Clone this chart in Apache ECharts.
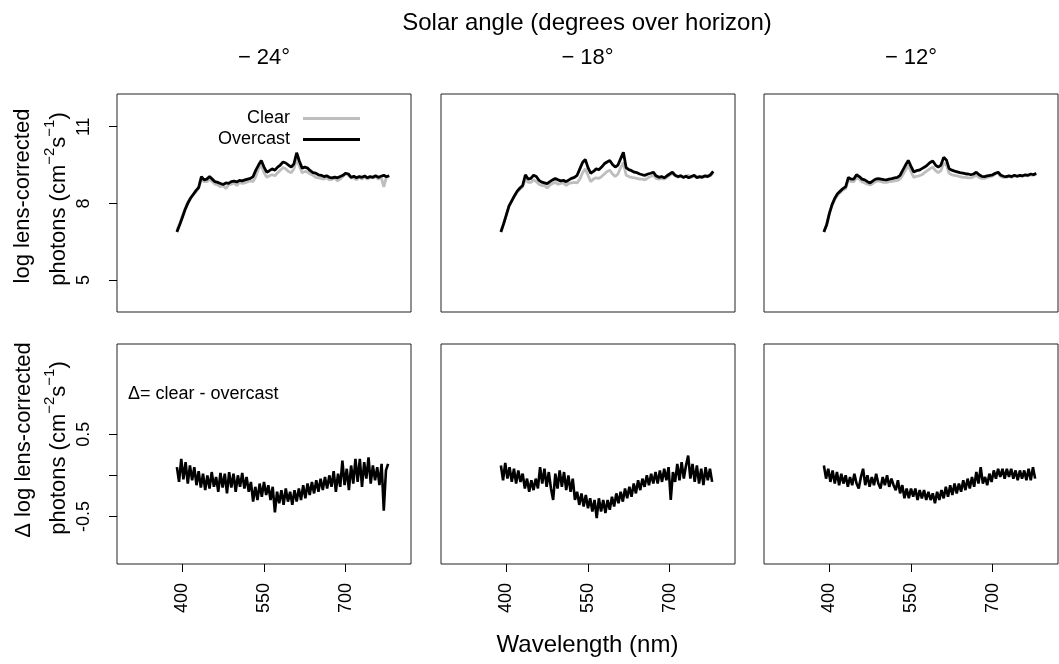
<!DOCTYPE html>
<html>
<head>
<meta charset="utf-8">
<title>Spectra by solar angle</title>
<script src="https://cdn.jsdelivr.net/npm/echarts@6/dist/echarts.min.js"></script>
<style>
  html, body { margin: 0; padding: 0; background: #fff; }
  #chart { width: 1059px; height: 664px; }
</style>
</head>
<body>
<div id="chart"></div>
<script>
// wavelengths (nm) of the sampled spectra
const wlTop = [390, 395, 400, 405, 410, 415, 420, 425, 430, 435, 440, 445, 450, 455, 460, 465, 470, 475, 480, 485,
  490, 495, 500, 505, 510, 515, 520, 525, 530, 535, 540, 545, 550, 555, 560, 565, 570, 575, 580, 585,
  590, 595, 600, 605, 610, 615, 620, 625, 630, 635, 640, 645, 650, 655, 660, 665, 670, 675, 680, 685,
  690, 695, 700, 705, 710, 715, 720, 725, 730, 735, 740, 745, 750, 755, 760, 765, 770, 775, 780]
const wlDelta = [390, 394, 398, 402, 406, 410, 414, 418, 422, 426, 430, 434, 438, 442, 446, 450, 454, 458, 462, 466,
  470, 474, 478, 482, 486, 490, 494, 498, 502, 506, 510, 514, 518, 522, 526, 530, 534, 538, 542, 546,
  550, 554, 558, 562, 566, 570, 574, 578, 582, 586, 590, 594, 598, 602, 606, 610, 614, 618, 622, 626,
  630, 634, 638, 642, 646, 650, 654, 658, 662, 666, 670, 674, 678, 682, 686, 690, 694, 698, 702, 706,
  710, 714, 718, 722, 726, 730, 734, 738, 742, 746, 750, 754, 758, 762, 766, 770, 774, 778]

// log lens-corrected photons, solar angle -24
const overcast24 = [6.88, 7.15, 7.45, 7.75, 8.0, 8.2, 8.35, 8.5, 8.62, 9.05,
  8.92, 8.95, 9.05, 8.95, 8.85, 8.82, 8.78, 8.74, 8.8, 8.78,
  8.85, 8.87, 8.84, 8.9, 8.88, 8.92, 8.95, 8.98, 9.05, 9.3,
  9.5, 9.68, 9.42, 9.22, 9.28, 9.35, 9.3, 9.42, 9.5, 9.62,
  9.58, 9.5, 9.42, 9.55, 9.98, 9.65, 9.38, 9.42, 9.38, 9.28,
  9.2, 9.18, 9.12, 9.1, 9.05, 9.08, 9.02, 9.0, 9.03, 9.0,
  9.05, 9.1, 9.18, 9.15, 9.02, 9.06, 9.0, 9.05, 9.02, 9.07,
  9.0, 9.05, 9.02, 9.08, 9.02, 9.06, 9.1, 9.04, 9.08]
const clear24 = [6.95, 7.2, 7.5, 7.8, 8.05, 8.2, 8.35, 8.45, 8.6, 8.95,
  8.85, 8.85, 8.95, 8.85, 8.75, 8.72, 8.65, 8.7, 8.58, 8.72,
  8.75, 8.8, 8.7, 8.82, 8.78, 8.8, 8.85, 8.88, 8.85, 9.05,
  9.35, 9.5, 9.2, 9.02, 9.08, 9.12, 9.08, 9.2, 9.3, 9.4,
  9.35, 9.25, 9.2, 9.35, 9.75, 9.45, 9.2, 9.25, 9.22, 9.15,
  9.1, 9.02, 9.0, 8.98, 8.95, 9.0, 8.92, 8.95, 8.98, 8.88,
  8.95, 9.05, 9.15, 9.1, 9.0, 9.0, 8.92, 9.05, 8.95, 9.05,
  8.95, 9.02, 9.0, 9.04, 8.95, 9.05, 8.65, 9.05, 9.08]

// solar angle -18
const overcast18 = [6.88, 7.2, 7.55, 7.9, 8.1, 8.3, 8.48, 8.6, 8.7, 9.12,
  8.95, 8.98, 9.1, 9.05, 8.9, 8.83, 8.8, 8.77, 8.85, 8.92,
  8.97, 8.92, 8.88, 8.9, 8.85, 8.92, 8.98, 9.02, 9.1, 9.35,
  9.6, 9.72, 9.4, 9.18, 9.25, 9.35, 9.32, 9.42, 9.55, 9.62,
  9.68, 9.52, 9.42, 9.5, 9.75, 10.0, 9.4, 9.32, 9.28, 9.22,
  9.2, 9.15, 9.12, 9.1, 9.15, 9.18, 9.22, 9.08, 9.02, 9.05,
  9.0, 9.08, 9.15, 9.22, 9.1, 9.05, 9.08, 9.02, 9.06, 9.0,
  9.05, 9.1, 9.0, 9.05, 9.02, 9.08, 9.05, 9.12, 9.25]
const clear18 = [6.9, 7.2, 7.55, 7.9, 8.1, 8.28, 8.45, 8.55, 8.65, 8.95,
  8.82, 8.82, 8.92, 8.85, 8.75, 8.7, 8.7, 8.6, 8.72, 8.78,
  8.82, 8.75, 8.78, 8.8, 8.7, 8.78, 8.8, 8.82, 8.8, 8.95,
  9.2, 9.35, 9.1, 8.85, 8.95, 9.0, 8.98, 9.05, 9.15, 9.25,
  9.3, 9.15, 9.05, 9.15, 9.4, 9.6, 9.1, 9.05, 9.02, 9.0,
  8.98, 8.95, 8.95, 8.92, 9.0, 9.05, 9.1, 8.98, 8.95, 8.98,
  8.95, 9.02, 9.1, 9.18, 9.08, 9.02, 9.1, 9.0, 9.08, 9.1,
  9.02, 9.08, 9.05, 9.02, 9.06, 9.04, 9.1, 9.08, 9.2]

// solar angle -12
const overcast12 = [6.88, 7.15, 7.6, 7.95, 8.2, 8.38, 8.48, 8.58, 8.65, 9.02,
  8.95, 8.95, 9.12, 9.05, 8.95, 8.92, 8.85, 8.8, 8.88, 8.95,
  8.97, 8.95, 8.93, 8.92, 8.95, 8.97, 9.0, 9.02, 9.1, 9.3,
  9.5, 9.68, 9.45, 9.23, 9.28, 9.3, 9.36, 9.42, 9.5, 9.6,
  9.66, 9.5, 9.42, 9.5, 9.8, 9.7, 9.36, 9.3, 9.26, 9.23,
  9.2, 9.18, 9.16, 9.15, 9.12, 9.15, 9.22, 9.12, 9.06, 9.05,
  9.08, 9.1, 9.12, 9.18, 9.22, 9.1, 9.06, 9.05, 9.08, 9.05,
  9.1, 9.06, 9.1, 9.08, 9.12, 9.1, 9.15, 9.12, 9.18]
const clear12 = [6.9, 7.18, 7.6, 7.92, 8.15, 8.32, 8.42, 8.52, 8.58, 8.92,
  8.85, 8.85, 9.0, 8.95, 8.85, 8.8, 8.75, 8.72, 8.78, 8.85,
  8.88, 8.85, 8.82, 8.82, 8.85, 8.86, 8.88, 8.9, 8.95, 9.12,
  9.3, 9.48, 9.25, 9.02, 9.06, 9.08, 9.12, 9.2, 9.28, 9.36,
  9.42, 9.28, 9.2, 9.28, 9.58, 9.5, 9.18, 9.12, 9.1, 9.08,
  9.05, 9.02, 9.02, 9.0, 9.0, 9.04, 9.1, 9.02, 8.98, 8.98,
  9.02, 9.05, 9.08, 9.15, 9.18, 9.05, 9.02, 9.02, 9.06, 9.02,
  9.08, 9.04, 9.08, 9.06, 9.1, 9.08, 9.12, 9.1, 9.15]

// delta = clear - overcast
const delta24 = [0.1, -0.08, 0.2, -0.05, 0.16, -0.1, 0.12, -0.06, 0.1, -0.12,
  0.05, -0.15, 0.02, -0.18, 0.0, -0.16, 0.04, -0.14, -0.02, -0.2,
  0.03, -0.15, 0.02, -0.22, 0.04, -0.15, 0.02, -0.2, 0.0, -0.14,
  0.03, -0.16, -0.02, -0.2, -0.08, -0.32, -0.14, -0.3, -0.1, -0.26,
  -0.08, -0.24, -0.12, -0.3, -0.14, -0.45, -0.2, -0.34, -0.18, -0.36,
  -0.16, -0.32, -0.2, -0.36, -0.18, -0.32, -0.16, -0.3, -0.12, -0.28,
  -0.1, -0.24, -0.08, -0.22, -0.06, -0.2, -0.04, -0.18, -0.02, -0.16,
  0.0, -0.14, 0.05, -0.2, 0.02, -0.14, 0.18, -0.12, 0.08, -0.18,
  0.12, -0.1, 0.2, -0.08, 0.2, -0.14, 0.16, -0.04, 0.22, -0.1,
  0.12, -0.06, 0.1, -0.12, 0.14, -0.43, 0.06, 0.14]
const delta18 = [0.12, -0.06, 0.15, -0.04, 0.1, -0.08, 0.08, -0.1, 0.06, -0.08,
  0.02, -0.16, -0.04, -0.2, -0.06, -0.18, -0.04, -0.16, 0.1, -0.1,
  0.08, -0.14, 0.04, -0.16, -0.3, 0.02, -0.16, 0.06, -0.14, 0.04,
  -0.18, 0.0, -0.2, -0.04, -0.3, -0.2, -0.36, -0.22, -0.38, -0.24,
  -0.4, -0.28, -0.44, -0.3, -0.52, -0.28, -0.44, -0.3, -0.46, -0.3,
  -0.42, -0.26, -0.38, -0.22, -0.34, -0.2, -0.32, -0.16, -0.28, -0.14,
  -0.26, -0.1, -0.22, -0.06, -0.18, -0.04, -0.14, 0.0, -0.12, 0.02,
  -0.1, 0.04, -0.1, 0.06, -0.08, 0.08, -0.06, 0.1, -0.3, 0.04,
  -0.08, 0.14, -0.06, 0.16, -0.04, 0.12, 0.24, -0.04, 0.14, -0.08,
  0.12, -0.1, 0.08, -0.12, 0.1, -0.06, 0.08, -0.08]
const delta12 = [0.12, -0.04, 0.08, -0.08, 0.06, -0.1, 0.04, -0.12, 0.02, -0.1,
  0.0, -0.14, -0.02, -0.12, 0.02, -0.1, -0.16, -0.02, 0.08, -0.12,
  0.0, -0.14, -0.02, -0.12, 0.02, -0.1, -0.16, -0.02, -0.12, 0.0,
  -0.14, -0.04, -0.12, -0.18, -0.06, -0.22, -0.12, -0.28, -0.16, -0.28,
  -0.16, -0.26, -0.16, -0.3, -0.18, -0.28, -0.18, -0.3, -0.2, -0.3,
  -0.22, -0.34, -0.2, -0.3, -0.18, -0.28, -0.14, -0.26, -0.12, -0.24,
  -0.1, -0.22, -0.1, -0.2, -0.06, -0.18, -0.04, -0.16, -0.02, -0.14,
  0.04, -0.1, 0.1, -0.1, -0.02, -0.12, 0.02, -0.08, 0.06, -0.04,
  0.08, -0.02, 0.08, -0.04, 0.08, -0.02, 0.08, -0.04, 0.06, -0.06,
  0.06, -0.04, 0.06, -0.06, 0.08, -0.06, 0.1, -0.04]

const angleLabels = ['\u2212 24°', '\u2212 18°', '\u2212 12°']
const xTicks = [400, 550, 700]
const topTicks = [5, 8, 11]
const deltaTicks = [-0.5, 0, 0.5]
const deltaTickLabels = [-0.5, 0.5]

const FONT = "'Liberation Sans', Arial, Helvetica, sans-serif"
const colLeft = [117, 441, 764]
const colWidth = 294
const rowTop = [94, 344]
const rowHeight = [218, 220]

const columns = [
  { overcast: overcast24, clear: clear24, delta: delta24 },
  { overcast: overcast18, clear: clear18, delta: delta18 },
  { overcast: overcast12, clear: clear12, delta: delta12 }
]

function pairs(xs, ys) {
  return xs.map((x, i) => [x, ys[i]])
}

function lineSeries(name, idx, data, color, width) {
  return {
    name: name,
    type: 'line',
    xAxisIndex: idx,
    yAxisIndex: idx,
    data: data,
    symbol: 'none',
    showSymbol: false,
    silent: true,
    lineStyle: { color: color, width: width },
    itemStyle: { color: color }
  }
}

const grids = []
const xAxes = []
const yAxes = []
for (let r = 0; r < 2; r++) {
  for (let c = 0; c < 3; c++) {
    const i = r * 3 + c
    grids.push({
      left: colLeft[c], top: rowTop[r], width: colWidth, height: rowHeight[r],
      show: true, borderColor: '#222', borderWidth: 1, backgroundColor: 'transparent'
    })
    xAxes.push({
      gridIndex: i, type: 'value', min: 280, max: 820,
      axisLine: { show: false, onZero: false },
      splitLine: { show: false },
      axisTick: { show: r === 1, customValues: xTicks, length: 8, lineStyle: { color: '#000' } },
      axisLabel: {
        show: r === 1, customValues: xTicks, rotate: 90, margin: 19,
        fontSize: 18, color: '#000', fontFamily: FONT
      }
    })
    yAxes.push({
      gridIndex: i, type: 'value',
      min: r === 0 ? 3.75 : -1.08,
      max: r === 0 ? 12.28 : 1.6,
      axisLine: { show: false, onZero: false },
      splitLine: { show: false },
      axisTick: { show: c === 0, customValues: r === 0 ? topTicks : deltaTicks, length: 8, lineStyle: { color: '#000' } },
      axisLabel: {
        show: c === 0, customValues: r === 0 ? topTicks : deltaTickLabels, rotate: 90, margin: 24,
        fontSize: 18, color: '#000', fontFamily: FONT,
        formatter: v => String(v)
      }
    })
  }
}

const series = []
columns.forEach((col, c) => {
  series.push(lineSeries('Clear', c, pairs(wlTop, col.clear), '#bebebe', 2.8))
  series.push(lineSeries('Overcast', c, pairs(wlTop, col.overcast), '#000', 2.8))
  series.push(lineSeries('Delta', 3 + c, pairs(wlDelta, col.delta), '#000', 2.6))
})

function text(x, y, str, size, extra) {
  return Object.assign({
    type: 'text', x: x, y: y, silent: true,
    style: Object.assign({
      text: str, fontSize: size, fontFamily: FONT, fill: '#000',
      align: 'center', verticalAlign: 'middle'
    }, (extra && extra.style) || {})
  }, (extra && extra.el) || {})
}

const unitsRich = {
  m: { fontSize: 22, fontFamily: FONT, fill: '#000' },
  s: { fontSize: 15, fontFamily: FONT, fill: '#000', padding: [0, 0, 18, 0] }
}
const unitsText = '{m|photons (cm}{s|\u22122}{m|s}{s|\u22121}{m|)}'
const vert = { el: { rotation: Math.PI / 2 } }

const graphics = [
  text(587, 23, 'Solar angle (degrees over horizon)', 24),
  text(264, 58, angleLabels[0], 22),
  text(587.5, 58, angleLabels[1], 22),
  text(911, 58, angleLabels[2], 22),
  text(587.5, 645, 'Wavelength (nm)', 24),
  text(23, 196, 'log lens-corrected', 22, vert),
  text(59, 199, unitsText, 22, { el: { rotation: Math.PI / 2 }, style: { rich: unitsRich } }),
  text(24, 440, '\u0394 log lens-corrected', 22, vert),
  text(59, 448, unitsText, 22, { el: { rotation: Math.PI / 2 }, style: { rich: unitsRich } }),
  text(128, 394, '\u0394= clear - overcast', 18, { style: { align: 'left' } })
]

const chart = echarts.init(document.getElementById('chart'), null, { renderer: 'canvas' })

const option = {
  animation: false,
  backgroundColor: '#fff',
  grid: grids,
  xAxis: xAxes,
  yAxis: yAxes,
  legend: {
    data: ['Clear', 'Overcast'],
    orient: 'vertical',
    align: 'right',
    right: 699,
    top: 108,
    itemWidth: 57,
    itemHeight: 3,
    itemGap: 0,
    icon: 'rect',
    selectedMode: false,
    padding: 0,
    textStyle: { fontSize: 18, fontFamily: FONT, color: '#000', lineHeight: 21, padding: [0, 8, 0, 0] }
  },
  series: series,
  graphic: graphics
}

chart.setOption(option)

window.addEventListener('resize', () => chart.resize())
</script>
</body>
</html>
